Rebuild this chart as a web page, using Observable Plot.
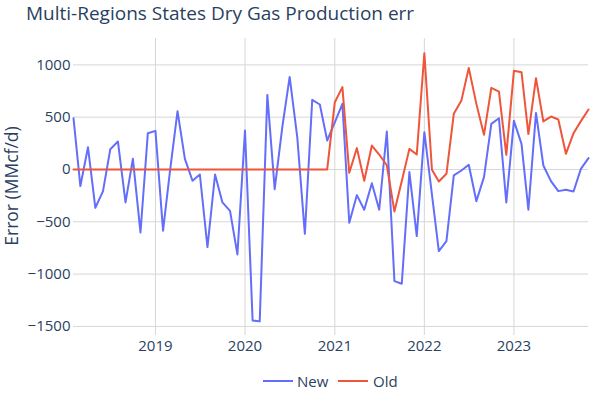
<!DOCTYPE html>
<html><head><meta charset="utf-8">
<script src="https://cdn.jsdelivr.net/npm/d3@7"></script>
<script src="https://cdn.jsdelivr.net/npm/@observablehq/plot@0.6"></script>
<style>
body{margin:0;background:#fff;font-family:"Open Sans",sans-serif;}
#wrap{position:relative;width:595px;height:396px;overflow:hidden;background:#fff}
#chart{position:absolute;left:0;top:0}
#title{position:absolute;left:26px;top:0px;font-size:19px;line-height:26px;color:#2a3f5f;white-space:nowrap}
#ylabel{position:absolute;left:-89px;top:174px;width:200px;height:24px;line-height:24px;text-align:center;font-size:17.5px;color:#2a3f5f;transform:rotate(-90deg);white-space:nowrap}
.leg{position:absolute;font-size:15px;color:#2a3f5f;line-height:20px;white-space:nowrap}
.sw{position:absolute;height:2px}
</style>
</head><body>
<div id="wrap">
  <div id="chart"></div>
  <div id="title">Multi-Regions States Dry Gas Production err</div>
  <div id="ylabel">Error (MMcf/d)</div>
  <div class="sw" style="left:263px;top:380px;width:30px;background:#636efa"></div>
  <div class="leg" style="left:297px;top:371px">New</div>
  <div class="sw" style="left:338px;top:380px;width:30px;background:#EF553B"></div>
  <div class="leg" style="left:373px;top:371px">Old</div>
</div>
<script>
const months = [
  "2018-02","2018-03","2018-04","2018-05","2018-06","2018-07","2018-08","2018-09","2018-10","2018-11","2018-12",
  "2019-01","2019-02","2019-03","2019-04","2019-05","2019-06","2019-07","2019-08","2019-09","2019-10","2019-11","2019-12",
  "2020-01","2020-02","2020-03","2020-04","2020-05","2020-06","2020-07","2020-08","2020-09","2020-10","2020-11","2020-12",
  "2021-01","2021-02","2021-03","2021-04","2021-05","2021-06","2021-07","2021-08","2021-09","2021-10","2021-11","2021-12",
  "2022-01","2022-02","2022-03","2022-04","2022-05","2022-06","2022-07","2022-08","2022-09","2022-10","2022-11","2022-12",
  "2023-01","2023-02","2023-03","2023-04","2023-05","2023-06","2023-07","2023-08","2023-09","2023-10","2023-11"
];
const newErr = [
  490,-159,213,-366,-210,194,268,-315,102,-602,347,
  369,-585,-20,557,102,-108,-48,-742,-48,-315,-395,-812,
  373,-1443,-1452,713,-188,404,885,309,-615,666,621,277,
  450,628,-510,-245,-385,-131,-385,363,-1067,-1092,-25,-637,
  357,-240,-780,-685,-57,-10,45,-303,-73,436,490,-315,
  465,245,-385,541,38,-111,-207,-194,-210,6,108
];
const oldErr = [
  0,0,0,0,0,0,0,0,0,0,0,
  0,0,0,0,0,0,0,0,0,0,0,0,
  0,0,0,0,0,0,0,0,0,0,0,0,
  643,787,-32,204,-108,229,143,40,-401,-110,197,143,
  1112,-3,-115,-41,532,659,971,627,331,780,745,140,
  943,930,338,873,459,506,478,150,347,462,573
];
const yearTicks = ["2019-01-01","2020-01-01","2021-01-01","2022-01-01","2023-01-01"];
const yTicks = [-1500,-1000,-500,0,500,1000];

const toDate = s => new Date(s + "T00:00:00Z");
const data = months.map((m, i) => ({date: toDate(m + "-01"), New: newErr[i], Old: oldErr[i]}));
const yearDates = yearTicks.map(toDate);

const chart = Plot.plot({
  width: 595, height: 396,
  marginTop: 38, marginBottom: 61, marginLeft: 73, marginRight: 7,
  style: {fontFamily: "'Open Sans', sans-serif", fontSize: "15px", color: "#2a3f5f", background: "transparent", overflow: "visible"},
  x: {type: "utc", domain: [toDate(months[0] + "-01"), toDate(months[months.length - 1] + "-01")], ticks: yearDates, tickFormat: d3.utcFormat("%Y"), tickSize: 0, tickPadding: 5, label: null},
  y: {domain: [-1587, 1252], ticks: yTicks, tickFormat: d3.format("d"), tickSize: 0, tickPadding: 3, label: null},
  marks: [
    Plot.ruleY(yTicks, {stroke: "#d6d6d6", strokeWidth: 1}),
    Plot.ruleX(yearDates, {stroke: "#d6d6d6", strokeWidth: 1}),
    Plot.line(data, {x: "date", y: "New", stroke: "#636efa", strokeWidth: 2}),
    Plot.line(data, {x: "date", y: "Old", stroke: "#EF553B", strokeWidth: 2})
  ]
});
document.getElementById("chart").appendChild(chart);
</script>
</body></html>
